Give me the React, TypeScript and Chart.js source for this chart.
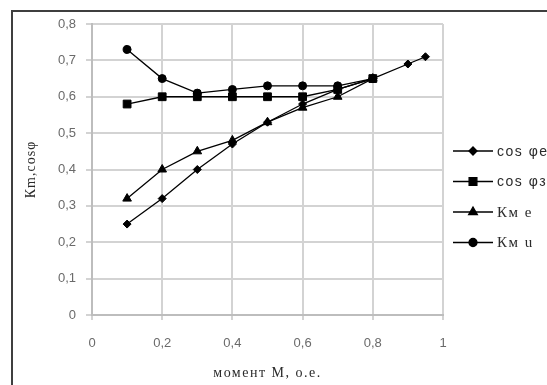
import React, { useEffect, useRef } from 'react';
import { Chart, registerables } from 'chart.js';
import { drawPoint } from 'chart.js/helpers';

Chart.register(...registerables);

// ---- data ----
const seriesNames = ['cos φe', 'cos φз', 'Км e', 'Км u'];
const momentCosE = [0.1, 0.2, 0.3, 0.4, 0.5, 0.6, 0.7, 0.8, 0.9, 0.95];
const cosPhiE = [0.25, 0.32, 0.40, 0.47, 0.53, 0.58, 0.62, 0.65, 0.69, 0.71];
const momentOther = [0.1, 0.2, 0.3, 0.4, 0.5, 0.6, 0.7, 0.8];
const cosPhiZ = [0.58, 0.60, 0.60, 0.60, 0.60, 0.60, 0.62, 0.65];
const kmE = [0.32, 0.40, 0.45, 0.48, 0.53, 0.57, 0.60, 0.65];
const kmU = [0.73, 0.65, 0.61, 0.62, 0.63, 0.63, 0.63, 0.65];
const pointStyles = ['rectRot', 'rect', 'triangle', 'circle'];
const xAxisTitle = 'момент М, о.е.';
const yAxisTitle = 'Кm,cosφ';
const xMin = 0, xMax = 1, xStep = 0.2;
const yMin = 0, yMax = 0.8, yStep = 0.1;

const fmt = (v: number) =>
  Math.abs(v - Math.round(v)) < 1e-9 ? String(Math.round(v)) : v.toFixed(1).replace('.', ',');

const toPoints = (xs: number[], ys: number[]) => xs.map((x, i) => ({ x, y: ys[i] }));

const markerRadius = [4, 5.5, 5, 4];

const framePlugin = {
  id: 'frame',
  beforeDraw(chart: any) {
    const ctx = chart.ctx;
    ctx.save();
    ctx.strokeStyle = '#3f3f3f';
    ctx.lineWidth = 2;
    ctx.beginPath();
    ctx.moveTo(12, 385);
    ctx.lineTo(12, 11);
    ctx.lineTo(547, 11);
    ctx.stroke();
    ctx.restore();
    // letter spacing for axis titles
    (['x', 'y'] as const).forEach((id) => {
      const s: any = chart.scales[id];
      if (s && !s.__ls) {
        const orig = s.drawTitle.bind(s);
        s.drawTitle = () => {
          const c: any = chart.ctx;
          c.save();
          c.letterSpacing = id === 'x' ? '1.5px' : '1px';
          orig();
          c.restore();
        };
        s.__ls = true;
      }
    });
  },
};

const legendPlugin = {
  id: 'excelLegend',
  afterDraw(chart: any) {
    const ctx = chart.ctx;
    const area = chart.chartArea;
    chart.data.datasets.forEach((ds: any, i: number) => {
      const y = area.top + 127 + i * 30.5;
      const x0 = area.right + 10;
      const x1 = x0 + 40;
      ctx.save();
      ctx.strokeStyle = '#000';
      ctx.fillStyle = '#000';
      ctx.lineWidth = 1.3;
      ctx.beginPath();
      ctx.moveTo(x0, y);
      ctx.lineTo(x1, y);
      ctx.stroke();
      drawPoint(ctx, { pointStyle: ds.pointStyle, radius: ds.pointRadius, rotation: 0, borderWidth: 1 } as any, (x0 + x1) / 2, y);
      const isCos = String(ds.label).startsWith('cos');
      ctx.font = isCos ? '14px "Liberation Sans"' : '15px "Liberation Serif"';
      (ctx as any).letterSpacing = '1.5px';
      ctx.fillStyle = '#2b2b2b';
      ctx.textAlign = 'left';
      ctx.textBaseline = 'middle';
      ctx.fillText(ds.label, x1 + 4, y + 1);
      ctx.restore();
    });
  },
};

export default function App() {
  const ref = useRef<HTMLCanvasElement | null>(null);
  useEffect(() => {
    if (!ref.current) return;
    const seriesData = [
      toPoints(momentCosE, cosPhiE),
      toPoints(momentOther, cosPhiZ),
      toPoints(momentOther, kmE),
      toPoints(momentOther, kmU),
    ];
    const chart = new Chart(ref.current, {
      type: 'line',
      data: {
        datasets: seriesNames.map((name, i) => ({
          label: name,
          data: seriesData[i],
          borderColor: '#000',
          backgroundColor: '#000',
          borderWidth: 1.3,
          pointStyle: pointStyles[i] as any,
          pointRadius: markerRadius[i],
          pointBorderWidth: 1,
          pointBorderColor: '#000',
          pointBackgroundColor: '#000',
          tension: 0,
          fill: false,
        })),
      },
      options: {
        animation: false,
        responsive: false,
        devicePixelRatio: 1,
        layout: { padding: { left: 0, top: 24, right: 104, bottom: 0 } },
        plugins: { legend: { display: false }, tooltip: { enabled: false } },
        scales: {
          x: {
            type: 'linear',
            min: xMin,
            max: xMax,
            afterFit: (s: any) => { s.height = 70; },
            ticks: {
              stepSize: xStep,
              callback: (v: any) => fmt(Number(v)),
              font: { family: '"Liberation Sans"', size: 13 },
              color: '#6a6a6a',
              padding: 16,
            },
            grid: { color: '#d3d3d3', lineWidth: 2, tickLength: 5 },
            border: { color: '#bdbdbd', width: 2 },
            title: {
              display: true,
              text: xAxisTitle,
              font: { family: '"Liberation Serif"', size: 14 },
              color: '#2b2b2b',
              padding: { top: 0, bottom: 3 },
            },
          },
          y: {
            type: 'linear',
            min: yMin,
            max: yMax,
            afterFit: (s: any) => { s.width = 92; },
            ticks: {
              stepSize: yStep,
              callback: (v: any) => fmt(Number(v)),
              font: { family: '"Liberation Sans"', size: 13 },
              color: '#6a6a6a',
              padding: 10,
            },
            grid: { color: '#d3d3d3', lineWidth: 2, tickLength: 6 },
            border: { color: '#bdbdbd', width: 2 },
            title: {
              display: true,
              text: yAxisTitle,
              font: { family: '"Liberation Serif"', size: 14 },
              color: '#2b2b2b',
              padding: { top: 23, bottom: 0 },
            },
          },
        },
      },
      plugins: [framePlugin, legendPlugin],
    });
    chart.draw();
    return () => chart.destroy();
  }, []);
  return (
    <div style={{ position: 'fixed', left: 0, top: 0, width: 547, height: 385, background: '#fff' }}>
      <canvas ref={ref} width={547} height={385} style={{ width: 547, height: 385 }} />
    </div>
  );
}
